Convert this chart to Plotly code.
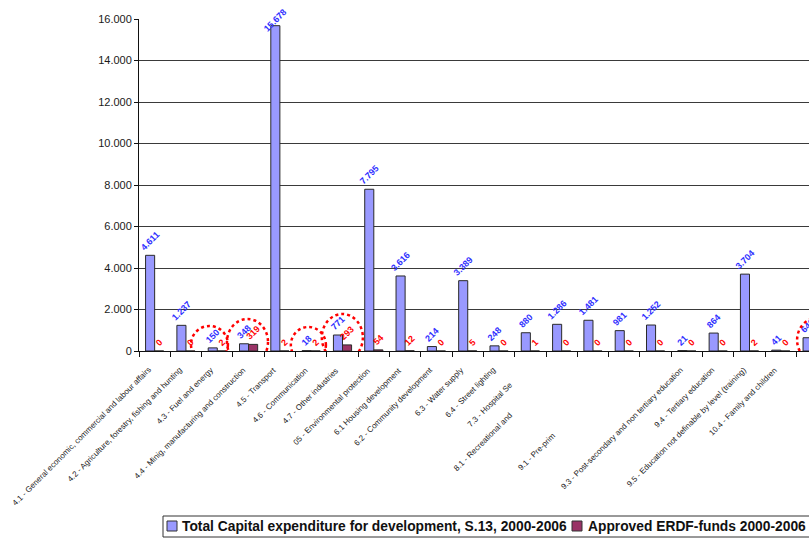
import plotly.graph_objects as go

# Functional categories (full names) and the text shown under each bar
categories = [
    "4.1 - General economic, commercial and labour affairs",
    "4.2 - Agriculture, forestry, fishing and hunting",
    "4.3 - Fuel and energy",
    "4.4 - Minig, manufacturing and construction",
    "4.5 - Transport",
    "4.6 - Communication",
    "4.7 - Other industries",
    "05 - Environmental protection",
    "6.1 Housing development",
    "6.2 - Community development",
    "6.3 - Water supply",
    "6.4 - Street lighting",
    "7.3 - Hospital Services",
    "8.1 - Recreational and sporting services",
    "",
    "9.1 - Pre-primary and primary education",
    "",
    "9.3 - Post-secondary and non tertiary education",
    "9.4 - Tertiary education",
    "9.5 - Education not definable by level (training)",
    "10.4 - Family and children",
    "\"11\" - Research & Development (R&D)",
]
shown_labels = [
    "4.1 - General economic, commercial and labour affairs",
    "4.2 - Agriculture, forestry, fishing and hunting",
    "4.3 - Fuel and energy",
    "4.4 - Minig, manufacturing and construction",
    "4.5 - Transport",
    "4.6 - Communication",
    "4.7 - Other industries",
    "05 - Environmental protection",
    "6.1 Housing development",
    "6.2 - Community development",
    "6.3 - Water supply",
    "6.4 - Street lighting",
    "7.3 - Hospital Se",
    "8.1 - Recreational and",
    "",
    "9.1 - Pre-prim",
    "",
    "9.3 - Post-secondary and non tertiary education",
    "9.4 - Tertiary education",
    "9.5 - Education not definable by level (training)",
    "10.4 - Family and children",
    "\"11\" - Research & Development (R&D)",
]

# Millions, 2000-2006
total_capex = [4611, 1237, 150, 348, 15678, 18, 771, 7795, 3616, 214, 3389,
               248, 880, 1286, 1481, 981, 1252, 21, 864, 3704, 41, 640]
erdf_funds = [0, 0, 2, 319, 2, 2, 293, 54, 12, 0, 5,
              0, 1, 0, 0, 0, 0, 0, 0, 2, 0, 3]

series_names = ["Total Capital expenditure for development, S.13, 2000-2006",
                "Approved ERDF-funds 2000-2006"]
series_colors = ["#9999FF", "#993366"]
label_colors = ["#3030FF", "#FF0000"]

y_ticks = [0, 2000, 4000, 6000, 8000, 10000, 12000, 14000, 16000]
Y_MAX = 16000

# Categories that are ringed with a dotted circle: (x0, x1, y0, y1) in axis units
highlight_rings = [
    (1.16, 2.34, -578, 1205),
    (2.31, 3.62, -675, 1542),
    (4.35, 5.47, -578, 1157),
    (5.34, 6.65, -482, 1783),
    (20.52, 21.79, -530, 1590),
]

# Labels whose visible part sits further down the diagonal (pixels)
label_slide = {12: 14, 13: 45, 15: 65}

FONT = "Liberation Sans, Arial, sans-serif"
W, H = 809, 539
L, R, T, B = 139, 0, 19, 188
PW, PH = W - L - R, H - T - B
BARGAP = 0.42
BAR_W = (1 - BARGAP) / 2


def px_to_paper(px, py):
    return (px - L) / PW, (H - B - py) / PH


idx = list(range(len(categories)))

fig = go.Figure()
for k, (vals, name, col, tcol) in enumerate(zip([total_capex, erdf_funds],
                                                series_names, series_colors,
                                                label_colors)):
    # values near the top of the axis get their label tucked down inside the frame
    near_top = [v > 0.9 * Y_MAX for v in vals]
    fig.add_bar(
        x=idx, y=vals, name=name, showlegend=False,
        marker=dict(color=col, line=dict(color="#2a2a2a", width=1)),
        texttemplate="%{y:,}",
        textposition=["none" if t else "outside" for t in near_top],
        textangle=-45,
        textfont=dict(color=tcol, size=9, family=FONT, weight="bold"),
        constraintext="none", cliponaxis=False,
    )
    for i, (v, t) in enumerate(zip(vals, near_top)):
        if t:
            fig.add_annotation(
                x=i + (k - 0.5) * BAR_W, y=v, xref="x", yref="y",
                text=f"{v:,}".replace(",", "."), showarrow=False,
                textangle=-45, xanchor="center", yanchor="middle", yshift=6,
                font=dict(color=tcol, size=9, family=FONT, weight="bold"),
            )

# Category labels, rotated under the axis
for i, lab in enumerate(shown_labels):
    if not lab:
        continue
    s = label_slide.get(i, 0)
    fig.add_annotation(
        x=i, y=0, xref="x", yref="paper", text=lab, showarrow=False,
        textangle=-45, xanchor="right", yanchor="top",
        xshift=1 - s, yshift=-12 - s,
        font=dict(size=8, color="#1a1a1a", family=FONT),
    )

for x0, x1, y0, y1 in highlight_rings:
    fig.add_shape(
        type="circle", xref="x", yref="y", x0=x0, x1=x1, y0=y0, y1=y1,
        line=dict(color="#FF0000", width=2.5, dash="dot"),
    )

# Legend box along the bottom edge
bx0, by1 = px_to_paper(163, 516)
bx1, by0 = px_to_paper(840, 537)
fig.add_shape(type="rect", xref="paper", yref="paper",
              x0=bx0, x1=bx1, y0=by0, y1=by1,
              line=dict(color="#333333", width=1), fillcolor="white")
for (sx, tx), name, col in zip([(167, 180), (572, 586)], series_names, series_colors):
    qx0, qy1 = px_to_paper(sx, 521)
    qx1, qy0 = px_to_paper(sx + 10, 531)
    fig.add_shape(type="rect", xref="paper", yref="paper",
                  x0=qx0, x1=qx1, y0=qy0, y1=qy1,
                  line=dict(color="#333333", width=1), fillcolor=col)
    ax, ay = px_to_paper(tx, 526.5)
    fig.add_annotation(x=ax, y=ay, xref="paper", yref="paper", text=name,
                       showarrow=False, xanchor="left", yanchor="middle",
                       font=dict(size=13.8, family=FONT, color="#111111",
                                 weight="bold"))

fig.update_layout(
    width=W, height=H,
    margin=dict(l=L, r=R, t=T, b=B),
    paper_bgcolor="white", plot_bgcolor="white",
    separators=",.",
    barmode="group", bargap=BARGAP, bargroupgap=0,
    font=dict(family=FONT, color="#1a1a1a"),
    showlegend=False,
)
fig.update_xaxes(
    range=[-0.5, 20.9],
    tickvals=[i - 0.5 for i in range(len(categories) + 1)],
    showticklabels=False,
    ticks="outside", ticklen=5, tickcolor="#111",
    showline=True, linecolor="#111", linewidth=1,
    showgrid=False, zeroline=False,
)
fig.update_yaxes(
    range=[0, Y_MAX], tickvals=y_ticks, tickformat=",.0f",
    ticks="outside", ticklen=4, tickcolor="#111",
    showline=True, linecolor="#111", linewidth=1,
    showgrid=True, gridcolor="#3a3a3a", gridwidth=1,
    zeroline=False,
    tickfont=dict(size=11, family=FONT, color="#1a1a1a"),
)

fig.write_html("out.html")
